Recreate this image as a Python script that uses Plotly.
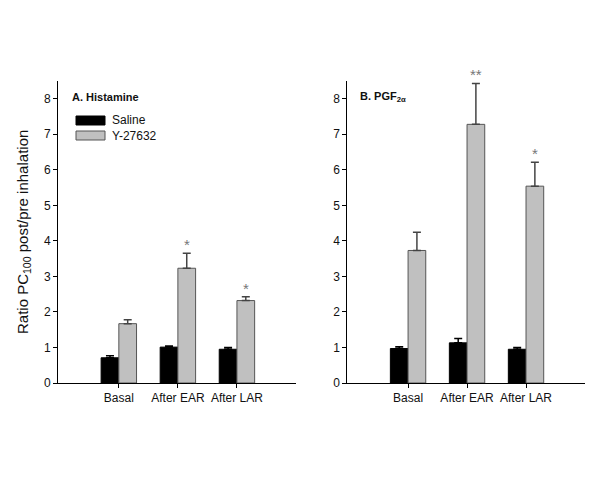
import plotly.graph_objects as go
from plotly.subplots import make_subplots

FONT = "Liberation Sans, Arial, sans-serif"
TEXT = "#111111"

categories = ["Basal", "After EAR", "After LAR"]

# A. Histamine
hist_saline = [0.71, 1.01, 0.95]
hist_saline_err = [0.06, 0.03, 0.05]
hist_y27632 = [1.67, 3.23, 2.32]
hist_y27632_err = [0.11, 0.42, 0.11]
hist_stars = ["", "*", "*"]

# B. PGF2alpha
pgf_saline = [0.97, 1.13, 0.95]
pgf_saline_err = [0.05, 0.12, 0.05]
pgf_y27632 = [3.73, 7.28, 5.54]
pgf_y27632_err = [0.51, 1.15, 0.67]
pgf_stars = ["", "**", "*"]

xpos = list(range(len(categories)))

fig = make_subplots(rows=1, cols=2, horizontal_spacing=0.0)


def add_panel(col, saline, saline_err, drug, drug_err, stars):
    fig.add_trace(go.Bar(
        x=xpos, y=saline, name="Saline", offsetgroup="s",
        marker=dict(color="#000000", line=dict(color="#000000", width=1)),
        error_y=dict(type="data", array=saline_err, arrayminus=[0] * 3,
                     symmetric=False, color="#000000", thickness=1.5, width=4),
        showlegend=False), row=1, col=col)
    fig.add_trace(go.Bar(
        x=xpos, y=drug, name="Y-27632", offsetgroup="d",
        marker=dict(color="#c0c0c0", line=dict(color="#555555", width=1)),
        error_y=dict(type="data", array=drug_err, arrayminus=[0] * 3,
                     symmetric=False, color="#444444", thickness=1.5, width=4),
        showlegend=False), row=1, col=col)
    # significance stars sit just above the drug error bars
    for x, v, e, s in zip(xpos, drug, drug_err, stars):
        if not s:
            continue
        fig.add_annotation(x=x + 0.15, y=v + e, text=s, showarrow=False,
                           xref=f"x{col if col > 1 else ''}",
                           yref=f"y{col if col > 1 else ''}",
                           yanchor="bottom", yshift=-2,
                           font=dict(size=15, color="#777777", family=FONT))


add_panel(1, hist_saline, hist_saline_err, hist_y27632, hist_y27632_err, hist_stars)
add_panel(2, pgf_saline, pgf_saline_err, pgf_y27632, pgf_y27632_err, pgf_stars)

axis_common = dict(showline=True, linecolor="#000000", linewidth=1,
                   showgrid=False, zeroline=False, ticks="outside",
                   ticklen=4, tickcolor="#000000",
                   tickfont=dict(size=12, color=TEXT, family=FONT))

fig.update_xaxes(range=[-1.03, 3.0], tickvals=xpos, ticktext=categories,
                 **axis_common)
fig.update_yaxes(range=[0, 8.5], tickvals=list(range(9)), **axis_common)
fig.update_layout(
    xaxis=dict(domain=[0, 0.4516]),
    xaxis2=dict(domain=[0.549, 1.0]),
)

# y title as a rotated annotation so it can sit at the far left
fig.add_annotation(text="Ratio PC<sub>100</sub> post/pre inhalation",
                   xref="paper", yref="paper", x=(15 - 50) / 527, y=0.5,
                   xanchor="center", yanchor="middle", textangle=-90,
                   showarrow=False, font=dict(size=15, color=TEXT, family=FONT))

# panel titles
fig.add_annotation(text="<b>A. Histamine</b>", xref="paper", yref="paper",
                   x=(62 - 50) / 527, y=(375 - 89) / 302, xanchor="left",
                   yanchor="middle", showarrow=False,
                   font=dict(size=11, color=TEXT, family=FONT))
fig.add_annotation(text="<b>B. PGF<sub>2α</sub></b>", xref="paper", yref="paper",
                   x=(350 - 50) / 527, y=(375 - 89) / 302, xanchor="left",
                   yanchor="middle", showarrow=False,
                   font=dict(size=11, color=TEXT, family=FONT))

# legend drawn as wide swatches
legend_items = [("Saline", "#000000", "#000000"), ("Y-27632", "#c0c0c0", "#555555")]
for i, (label, fill, edge) in enumerate(legend_items):
    top = 108 + i * 15
    fig.add_shape(type="rect", xref="paper", yref="paper",
                  x0=(68 - 50) / 527, x1=(97 - 50) / 527,
                  y0=(375 - top - 9) / 302, y1=(375 - top) / 302,
                  fillcolor=fill, line=dict(color=edge, width=1))
    fig.add_annotation(text=label, xref="paper", yref="paper",
                       x=(102 - 50) / 527, y=(375 - top - 4.5) / 302,
                       xanchor="left", yanchor="middle", showarrow=False,
                       font=dict(size=12, color=TEXT, family=FONT))

fig.update_layout(
    width=600, height=482,
    margin=dict(l=50, r=23, t=73, b=107),
    barmode="group", bargap=0.4, bargroupgap=0,
    paper_bgcolor="white", plot_bgcolor="white",
    font=dict(family=FONT, color=TEXT),
    showlegend=False,
)

fig.write_html("out.html")
